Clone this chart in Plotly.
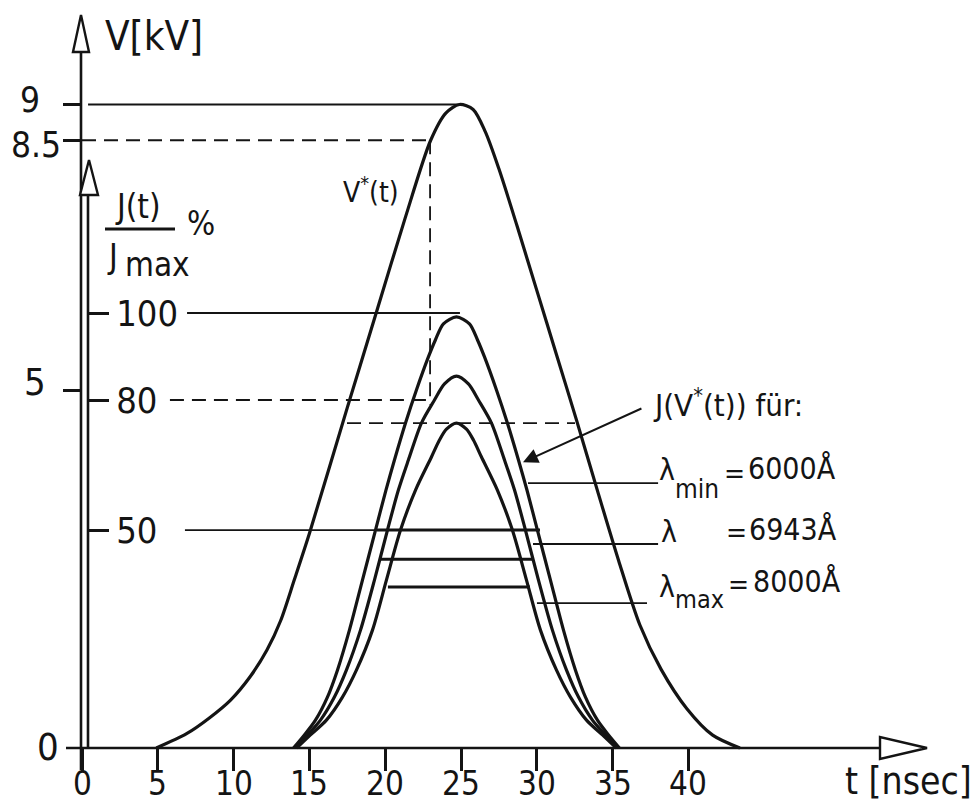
import plotly.graph_objects as go

W, H = 977, 806
INK = "#141414"
FONT = "DejaVu Sans Condensed, DejaVu Sans, sans-serif"

# ---------------- data ----------------
t_ticks = [0, 5, 10, 15, 20, 25, 30, 35, 40]
v_ticks = [5, 8.5, 9]
j_ticks = [50, 80, 100]

# V*(t) in kV
t_V = [4.9, 6.9, 8.4, 9.8, 11.1, 12.2, 13.1, 14.0, 15.0, 17.5, 19.5, 21.3, 23.0, 24.0,
       24.9, 25.8, 26.6, 27.5, 28.7, 30.0, 31.3, 32.6, 34.0, 35.4, 36.8, 38.2, 39.9,
       41.6, 43.4]
V_kV = [0, 0.2, 0.42, 0.67, 1.0, 1.37, 1.78, 2.35, 3.0, 4.76, 6.15, 7.4, 8.5, 8.88,
        9.0, 8.93, 8.62, 8.1, 7.3, 6.4, 5.5, 4.6, 3.6, 2.62, 1.72, 1.1, 0.55,
        0.18, 0]

# J(V*(t)) / Jmax in %  for lambda_min = 6000 A
t_Jlmin = [13.95, 14.67, 15.40, 16.19, 16.85, 17.64, 18.50, 19.36, 20.05, 20.61, 21.34,
           22.06, 22.85, 23.31, 23.84, 24.70, 25.56, 26.09, 26.55, 27.34, 28.06, 28.79,
           29.35, 30.04, 30.90, 31.76, 32.55, 33.21, 34.00, 34.73, 35.45]
J_lmin = [0, 3.0, 6.4, 11.7, 17.9, 27.1, 38.6, 50.1, 59.3, 66.2, 74.7,
          82.3, 89.9, 93.8, 97.5, 99.1, 97.5, 93.8, 89.9, 82.3, 74.7, 66.2,
          59.3, 50.1, 38.6, 27.1, 17.9, 11.7, 6.4, 3.0, 0]
# lambda = 6943 A
t_Jl = [14.08, 14.87, 15.73, 16.65, 17.44, 18.37, 19.29, 20.15, 20.87, 21.53, 22.39,
        23.25, 23.91, 24.70, 25.49, 26.15, 27.01, 27.87, 28.53, 29.25, 30.11, 31.03,
        31.96, 32.75, 33.67, 34.53, 35.32]
J_l = [0, 3.0, 6.4, 11.7, 17.9, 27.1, 38.6, 50.1, 59.3, 66.2, 74.7,
       80.0, 83.7, 85.5, 83.7, 80.0, 74.7, 66.2, 59.3, 50.1, 38.6, 27.1,
       17.9, 11.7, 6.4, 3.0, 0]
# lambda_max = 8000 A
t_Jlmax = [14.15, 15.07, 16.12, 17.18, 18.10, 19.16, 20.08, 21.01, 22.00, 23.05, 23.58,
           24.04, 24.70, 25.36, 25.82, 26.35, 27.40, 28.39, 29.32, 30.24, 31.30, 32.22,
           33.28, 34.33, 35.25]
J_lmax = [0, 3.0, 6.4, 11.7, 17.9, 27.1, 38.6, 50.1, 59.3, 66.9, 70.8,
          73.3, 74.7, 73.3, 70.8, 66.9, 59.3, 50.1, 38.6, 27.1, 17.9, 11.7,
          6.4, 3.0, 0]

# construction lines
V_peak, t_V_peak_line = 9.0, [0.4, 24.9]
V_thr, t_thr = 8.5, 22.96
V_thr_drop = [8.5, 4.8]
J_full, t_J_full_line = 100, [6.93, 24.93]
J_thr, t_J_thr_line = 80, [5.8, 22.96]
J_low_peak, t_J_low_peak_line = 74.7, [17.48, 32.52]
J_half_thin, t_half_thin = 50.1, [6.79, 19.46]
J_half = [50.1, 43.4, 37.0]
t_half_start = [19.46, 19.59, 20.18]
t_half_end = [30.21, 29.75, 29.55]
J_leader = [60.9, 46.9, 33.3]
t_leader_start = [29.42, 29.75, 30.01]
t_leader_end = [38.0, 38.0, 37.27]

# ---------------- figure ----------------
def px(x):
    return x / W

def py(y):
    return 1 - y / H

fig = go.Figure()

def line(x, y, yaxis="y", width=1.8, dash="solid", spline=False):
    ln = dict(color=INK, width=width, dash=dash)
    if spline:
        ln.update(shape="spline", smoothing=0.8)
    fig.add_trace(go.Scatter(x=x, y=y, yaxis=yaxis, mode="lines", line=ln,
                             hoverinfo="skip", showlegend=False))

DASH = "14px,8px"
# V-axis construction lines
line(t_V_peak_line, [V_peak, V_peak])
line([0, t_thr], [V_thr, V_thr], dash=DASH)
line([t_thr, t_thr], V_thr_drop, dash=DASH)
# J-axis construction lines
line(t_J_full_line, [J_full, J_full], yaxis="y2")
line(t_J_thr_line, [J_thr, J_thr], yaxis="y2", dash=DASH)
line(t_J_low_peak_line, [J_low_peak, J_low_peak], yaxis="y2", dash=DASH)
line(t_half_thin, [J_half_thin, J_half_thin], yaxis="y2")
for j, a, b in zip(J_half, t_half_start, t_half_end):
    line([a, b], [j, j], yaxis="y2", width=3)
for j, a, b in zip(J_leader, t_leader_start, t_leader_end):
    line([a, b], [j, j], yaxis="y2")

# curves
line(t_V, V_kV, width=3.2, spline=True)
line(t_Jlmin, J_lmin, yaxis="y2", width=3.2, spline=True)
line(t_Jl, J_l, yaxis="y2", width=3.2, spline=True)
line(t_Jlmax, J_lmax, yaxis="y2", width=3.2, spline=True)

# axis lines and hollow arrowheads (decoration)
shapes = []
def seg(x0, y0, x1, y1, w=2.6):
    shapes.append(dict(type="line", xref="paper", yref="paper",
                       x0=px(x0), y0=py(y0), x1=px(x1), y1=py(y1),
                       line=dict(color=INK, width=w)))

def tri(pts):
    p = "M " + " L ".join(f"{px(a):.5f},{py(b):.5f}" for a, b in pts) + " Z"
    shapes.append(dict(type="path", xref="paper", yref="paper", path=p,
                       fillcolor="white", line=dict(color=INK, width=2.4)))

seg(81, 770, 81, 52)          # V axis
seg(88, 748, 88, 195)         # J axis
seg(66, 748, 880, 748)        # t axis
tri([(81, 15), (73, 52), (89, 52)])
tri([(89, 160), (80, 195), (98, 195)])
tri([(927, 748), (880, 737), (880, 759)])
seg(105, 229, 175, 229, 3)    # fraction bar

annotations = []
def txt(s, x, y, size, xa="center", ya="middle"):
    annotations.append(dict(text=s, x=px(x), y=py(y), xref="paper", yref="paper",
                            showarrow=False, xanchor=xa, yanchor=ya,
                            font=dict(size=size, family=FONT, color=INK)))

# t-axis tick labels, placed through the x scale
for tv in t_ticks:
    annotations.append(dict(text=str(tv), x=tv, y=py(805), xref="x", yref="paper",
                            showarrow=False, xanchor="center", yanchor="bottom",
                            font=dict(size=33, family=FONT, color=INK)))

txt("V[kV]", 103, 36, 40, xa="left")
txt("9", 30, 100, 35)
txt("8.5", 36, 145, 35)
txt("5", 35, 382, 38)
txt("0", 48, 747, 38)
txt("J(t)", 138, 207, 33)
txt("J", 105, 256, 33, xa="left")
txt("max", 123, 264, 33, xa="left")
txt("%", 201, 224, 33)
txt("V<sup>*</sup>(t)", 341, 190, 28, xa="left")
txt("J(V<sup>*</sup>(t)) für:", 651, 403, 31, xa="left")
# lambda rows
txt("λ", 657, 469, 30, xa="left")
txt("min", 673, 489, 26, xa="left")
txt("=", 734, 473, 28)
txt("6000Å", 746, 468, 30, xa="left")
txt("λ", 659, 531, 30, xa="left")
txt("=", 736, 532, 28)
txt("6943Å", 747, 529, 30, xa="left")
txt("λ", 657, 586, 30, xa="left")
txt("max", 673, 599, 25, xa="left")
txt("=", 738, 584, 28)
txt("8000Å", 751, 581, 30, xa="left")
txt("t [nsec]", 974, 805, 37, xa="right", ya="bottom")

# arrow pointing at J(V*(t)) curves
annotations.append(dict(x=29.09, y=65.7, xref="x", yref="y2",
                        ax=37.0, ay=78.2, axref="x", ayref="y2",
                        text="", showarrow=True, arrowhead=2, arrowsize=1.5,
                        arrowwidth=2, arrowcolor=INK))

# axis ranges so that the scales match the drawing
x_range = [-82 / 15.16, (W - 82) / 15.16]
v_range = [-(H - 748) / 71.5, 748 / 71.5]
j_range = [-(H - 748) / 4.35, 748 / 4.35]

fig.update_layout(
    width=W, height=H,
    margin=dict(l=0, r=0, t=0, b=0),
    paper_bgcolor="white", plot_bgcolor="white",
    showlegend=False,
    shapes=shapes, annotations=annotations,
    xaxis=dict(range=x_range, domain=[0, 1], anchor="free", position=py(748),
               showline=False, showgrid=False, zeroline=False,
               ticks="outside", ticklen=22, tickwidth=2.5, tickcolor=INK,
               tickvals=t_ticks, showticklabels=False, automargin=False,
               fixedrange=True),
    yaxis=dict(range=v_range, domain=[0, 1], anchor="free", position=px(81),
               showline=False, showgrid=False, zeroline=False,
               ticks="outside", ticklen=18, tickwidth=2.5, tickcolor=INK,
               tickvals=v_ticks, showticklabels=False, automargin=False,
               fixedrange=True),
    yaxis2=dict(range=j_range, overlaying="y", anchor="free", position=px(88),
                side="right", showline=False, showgrid=False, zeroline=False,
                ticks="outside", ticklen=20, tickwidth=2.5, tickcolor=INK,
                tickvals=j_ticks, ticktext=[str(v) for v in j_ticks],
                tickfont=dict(size=36, family=FONT, color=INK), automargin=False,
                fixedrange=True),
)

fig.write_html("out.html")
